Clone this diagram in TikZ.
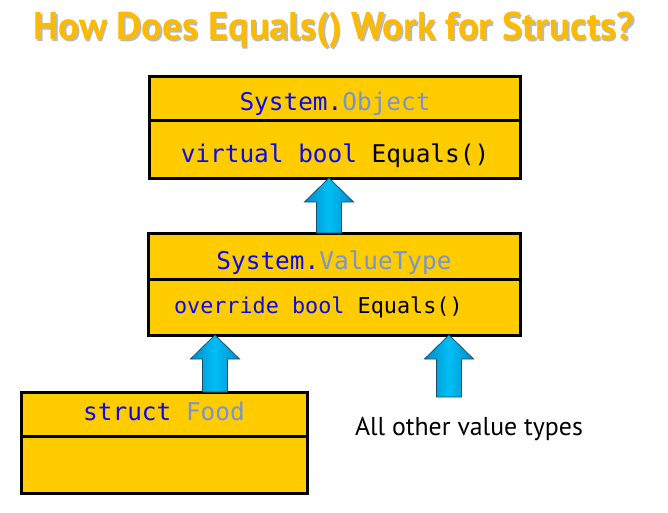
\documentclass[tikz,border=0pt]{standalone}
\usepackage{fontspec}
\setmonofont{DejaVu Sans Mono}
\newfontfamily\titlefont{PT Sans}
\newfontfamily\labelfont{PT Sans}
\usetikzlibrary{calc}

\definecolor{boxgold}{RGB}{255,204,0}
\definecolor{titlegold}{RGB}{252,186,0}
\definecolor{kwblue}{RGB}{10,10,235}
\definecolor{typegray}{RGB}{120,148,210}
\definecolor{arrowcyan}{RGB}{0,190,245}
\definecolor{arrowdark}{RGB}{0,140,200}
\definecolor{arrowedge}{RGB}{20,80,110}

\newcommand{\liftarrow}[2]{%
	\draw[liftstyle] let \p1=(#1), \p2=(#2) in
		(\x1-12.5pt,\y1) -- (\x1-12.5pt,\y2-24pt) -- (\x1-24.5pt,\y2-24pt) -- (\x2,\y2)
		-- (\x1+24.5pt,\y2-24pt) -- (\x1+12.5pt,\y2-24pt) -- (\x1+12.5pt,\y1) -- cycle;}

\begin{document}
\begin{tikzpicture}[x=1pt,y=-1pt,inner sep=0pt,outer sep=0pt,
	classbox/.style={rectangle, draw=black, line width=3pt, fill=boxgold, anchor=north west},
	codetext/.style={font=\ttfamily\fontsize{24.4}{28}\selectfont, anchor=base},
	liftstyle/.style={draw=arrowedge, line width=0.8pt, left color=arrowdark, right color=arrowdark, middle color=arrowcyan, line join=miter}]
	\useasboundingbox (0,0) rectangle (668,513);

	\node[text=black!45, opacity=0.6, font=\titlefont\bfseries\fontsize{38.6}{40}\selectfont, anchor=base] (titleshadow) at (335.5,41.5) {How Does Equals() Work for Structs?};
	\node[text=titlegold, font=\titlefont\bfseries\fontsize{38.6}{40}\selectfont, anchor=base] (title) at (334,40) {How Does Equals() Work for Structs?};

	\node[classbox, minimum width=371, minimum height=44] (objhead) at (149,77) {};
	\node[classbox, minimum width=371, minimum height=57] (objbody) at (149,121) {};
	\node[classbox, minimum width=372, minimum height=46] (vthead) at (148,233) {};
	\node[classbox, minimum width=372, minimum height=56] (vtbody) at (148,279) {};
	\node[classbox, minimum width=286, minimum height=44] (foodhead) at (21,392) {};
	\node[classbox, minimum width=286, minimum height=57] (foodbody) at (21,436) {};

	\node[codetext] (objname) at (335,111) {\textcolor{kwblue}{System.}\textcolor{typegray}{Object}};
	\node[codetext] (objmeth) at (335,162) {\textcolor{kwblue}{virtual bool} Equals()};
	\node[codetext] (vtname) at (334,269) {\textcolor{kwblue}{System.}\textcolor{typegray}{ValueType}};
	\node[codetext, font=\ttfamily\fontsize{21.8}{26}\selectfont, anchor=base west] (vtmeth) at (174,313) {\textcolor{kwblue}{override bool} Equals()};
	\node[codetext] (foodname) at (164,420) {\textcolor{kwblue}{struct} \textcolor{typegray}{Food}};

	\node[font=\labelfont\fontsize{25.8}{28}\selectfont, anchor=base west] (others) at (355,435) {All other value types};
	\coordinate (otherstail) at (449,397);

	\liftarrow{vthead.north -| 329,0}{objbody.south -| 329,0}
	\liftarrow{foodhead.north -| 215,0}{vtbody.south -| 215,0}
	\liftarrow{otherstail}{vtbody.south -| otherstail}
\end{tikzpicture}
\end{document}
